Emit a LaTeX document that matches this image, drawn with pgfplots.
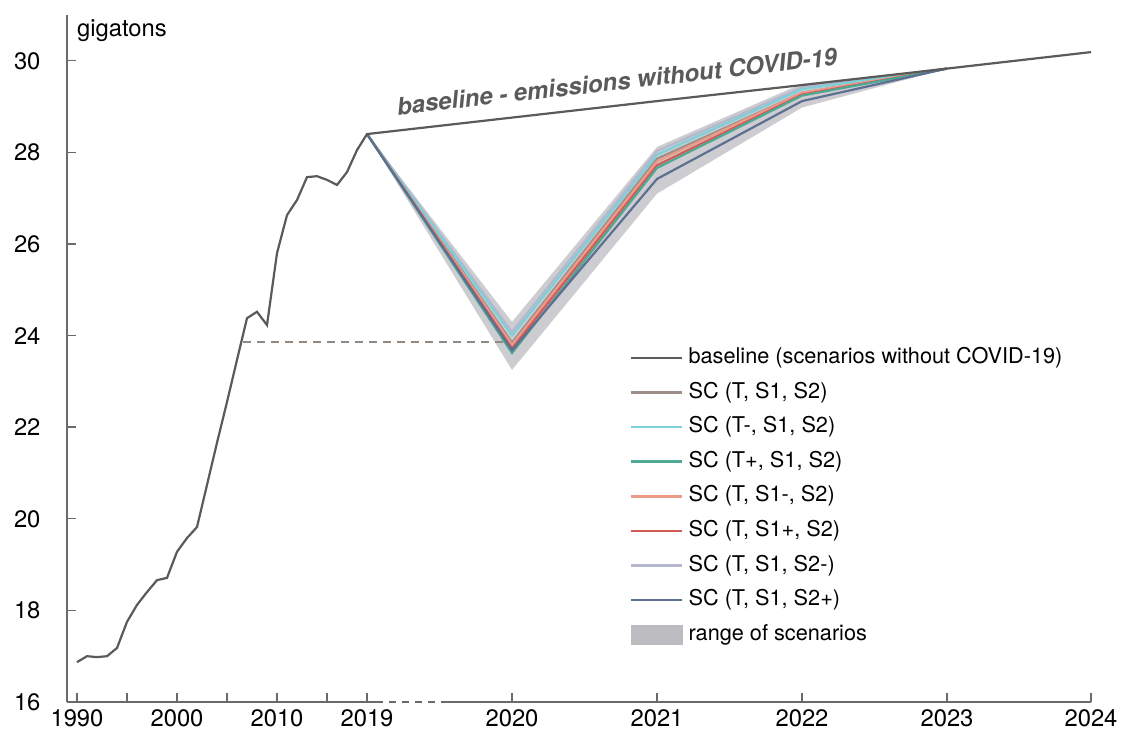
\documentclass[border=0pt]{standalone}
\usepackage{pgfplots}
\pgfplotsset{compat=1.18}
\usepackage{fontspec}
\setmainfont{TeX Gyre Heros}
\definecolor{basec}{HTML}{5A5A5A}
\definecolor{axc}{HTML}{6A6A6A}
\definecolor{scA}{HTML}{9C8F89}
\definecolor{scB}{HTML}{7DCFD8}
\definecolor{scC}{HTML}{4FA894}
\definecolor{scD}{HTML}{EE9A8A}
\definecolor{scE}{HTML}{D45A55}
\definecolor{scF}{HTML}{B6B8CE}
\definecolor{scG}{HTML}{5D7092}
\definecolor{bandc}{HTML}{CDCDD1}
\definecolor{dashc}{HTML}{948A84}
\begin{document}
\begin{tikzpicture}
\begin{axis}[
  scale only axis, width=1024pt, height=687pt,
  xmin=1989, xmax=2091.4, ymin=16, ymax=31,
  axis x line*=bottom, axis y line*=left,
  x axis line style={draw=none},
  y axis line style={draw=axc, line width=1.4pt, -},
  xtick={1990,2000,2010,2019,2033.5,2048,2062.5,2077,2091.4},
  xticklabels={1990,2000,2010,2019,2020,2021,2022,2023,2024},
  minor xtick={1995,2005,2015},
  ytick={16,18,...,30},
  tick align=inside,
  major tick length=9pt, minor tick length=9pt,
  tick style={draw=axc, line width=1.4pt},
  /pgf/number format/assume math mode=true,
  xticklabel style={font=\fontsize{23.8}{26}\selectfont, yshift=-4pt},
  yticklabel style={font=\fontsize{23.8}{26}\selectfont, xshift=-23pt},
  clip=false,
  legend cell align=left,
  legend style={at={(axis description cs:0.5498,0.5146)}, anchor=north west,
    draw=none, fill=none, inner sep=0pt, outer sep=0pt,
    font=\fontsize{21.7}{24}\selectfont, row sep=15.6pt, column sep=5pt,
    nodes={inner sep=0pt, text height=15pt, text depth=4pt}},
  legend image code/.code={\draw[#1] (0pt,0pt) -- (51pt,0pt);},
]
% range of scenarios
\addplot[fill=bandc, draw=none, forget plot] coordinates {
 (2019,28.4) (2033.5,24.3) (2048,28.12) (2062.5,29.5) (2077,29.83)
 (2062.5,28.98) (2048,27.1) (2033.5,23.25) (2019,28.4)} -- cycle;
% dashed reference
\addplot[dashc, line width=1.8pt, dash pattern=on 8pt off 6pt, forget plot] coordinates {(2006.6,23.86) (2033.5,23.86)};
% scenarios
\addplot[scA, line width=2.2pt, forget plot] coordinates {(2019,28.4) (2033.5,23.85) (2048,27.86) (2062.5,29.3) (2077,29.83)};
\addplot[scF, line width=2.2pt, forget plot] coordinates {(2019,28.4) (2033.5,24.08) (2048,28.03) (2062.5,29.42) (2077,29.83)};
\addplot[scB, line width=2.2pt, forget plot] coordinates {(2019,28.4) (2033.5,24.0) (2048,27.95) (2062.5,29.38) (2077,29.83)};
\addplot[scD, line width=2.2pt, forget plot] coordinates {(2019,28.4) (2033.5,23.8) (2048,27.8) (2062.5,29.3) (2077,29.83)};
\addplot[scE, line width=2.2pt, forget plot] coordinates {(2019,28.4) (2033.5,23.72) (2048,27.72) (2062.5,29.26) (2077,29.83)};
\addplot[scC, line width=2.2pt, forget plot] coordinates {(2019,28.4) (2033.5,23.62) (2048,27.66) (2062.5,29.24) (2077,29.83)};
\addplot[scG, line width=2.2pt, forget plot] coordinates {(2019,28.4) (2033.5,23.68) (2048,27.42) (2062.5,29.12) (2077,29.83)};
% history + baseline
\addplot[basec, line width=2.2pt, forget plot] coordinates {
 (1990,16.87) (1991,17.0) (1992,16.98) (1993,17.0) (1994,17.18) (1995,17.75)
 (1996,18.12) (1997,18.4) (1998,18.66) (1999,18.71) (2000,19.28) (2001,19.58)
 (2002,19.82) (2003,20.74) (2004,21.66) (2005,22.55) (2006,23.47) (2007,24.38)
 (2008,24.52) (2009,24.23) (2010,25.8) (2011,26.63) (2012,26.96) (2013,27.46)
 (2014,27.48) (2015,27.4) (2016,27.29) (2017,27.57) (2018,28.05) (2019,28.4)
 (2033.5,28.76) (2048,29.12) (2062.5,29.47) (2077,29.83) (2091.4,30.19)};
% legend
\addlegendimage{basec, line width=2.6pt}
\addlegendentry{baseline (scenarios without COVID-19)}
\addlegendimage{scA, line width=2.6pt}
\addlegendentry{SC (T, S1, S2)}
\addlegendimage{scB, line width=2.6pt}
\addlegendentry{SC (T-, S1, S2)}
\addlegendimage{scC, line width=2.6pt}
\addlegendentry{SC (T+, S1, S2)}
\addlegendimage{scD, line width=2.6pt}
\addlegendentry{SC (T, S1-, S2)}
\addlegendimage{scE, line width=2.6pt}
\addlegendentry{SC (T, S1+, S2)}
\addlegendimage{scF, line width=2.6pt}
\addlegendentry{SC (T, S1, S2-)}
\addlegendimage{scG, line width=2.6pt}
\addlegendentry{SC (T, S1, S2+)}
\addlegendimage{legend image code/.code={\fill[bandc!80!gray] (0pt,-9.5pt) rectangle (51pt,9.5pt);}}
\addlegendentry{range of scenarios}
% x axis line with break
\draw[axc, line width=1.4pt] (axis cs:1989,16) -- (axis cs:2019.9,16);
\draw[axc, line width=1.4pt, dash pattern=on 7pt off 6pt] (axis cs:2019.9,16) -- (axis cs:2026.6,16);
\draw[axc, line width=1.4pt] (axis cs:2026.6,16) -- (axis cs:2091.4,16);
% labels
\node[anchor=base west, inner sep=0pt, font=\fontsize{23.8}{26}\selectfont] at (axis cs:1990,30.52) {gigatons};
\node[anchor=base, inner sep=0pt, rotate=6.5, text=basec, font=\fontsize{24}{26}\bfseries\itshape\selectfont] at (axis cs:2044.1,29.36) {baseline - emissions without COVID-19};
\end{axis}
\path (-67pt,-34pt) rectangle (1054pt,702pt);
\end{tikzpicture}
\end{document}
